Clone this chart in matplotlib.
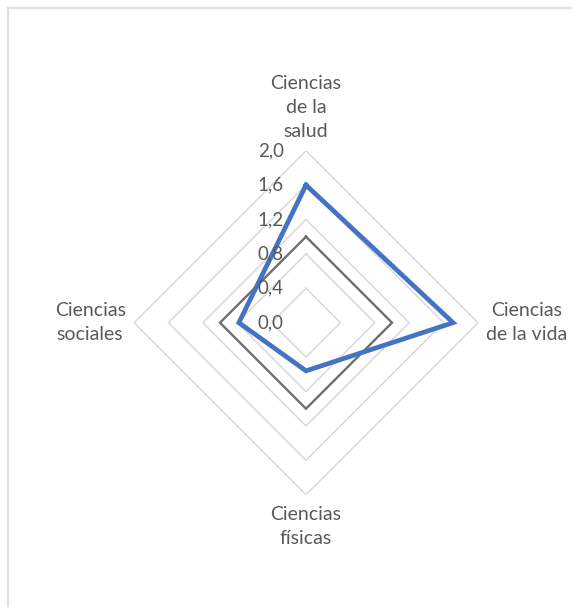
import numpy as np
import matplotlib.pyplot as plt
from matplotlib.lines import Line2D
from matplotlib.transforms import offset_copy

plt.rcParams['font.family'] = ['Lato', 'DejaVu Sans']

# data
categories = ['Ciencias\nde la\nsalud', 'Ciencias\nde la vida', 'Ciencias\nfísicas', 'Ciencias\nsociales']
blueValues = [1.6, 1.71, 0.56, 0.78]
grayValues = [1.0, 1.0, 1.0, 1.0]
gridLevels = [0.4, 0.8, 1.2, 1.6, 2.0]
tickValues = [0.0, 0.4, 0.8, 1.2, 1.6, 2.0]
tickLabels = [f'{v:.1f}'.replace('.', ',') for v in tickValues]

textColor = '#595959'
W, H = 572, 607
fig = plt.figure(figsize=(W / 100, H / 100), dpi=100)

# chart area border (only top and left visible)
fig.add_artist(Line2D([8 / W, 1.0], [1 - 8 / H, 1 - 8 / H], color='#D9D9D9', lw=1.2, transform=fig.transFigure))
fig.add_artist(Line2D([8 / W, 8 / W], [0.0, 1 - 8 / H], color='#D9D9D9', lw=1.2, transform=fig.transFigure))

cx, cy, rad = 306, 322.7, 172
ax = fig.add_axes([(cx - rad) / W, (H - cy - rad) / H, 2 * rad / W, 2 * rad / H], projection='polar')
ax.set_theta_offset(np.pi / 2)
ax.set_theta_direction(-1)
ax.set_ylim(0, 2.0)
ax.grid(False)
ax.spines['polar'].set_visible(False)
ax.set_xticks([])
ax.set_yticks([])
ax.patch.set_alpha(0)

angles = np.linspace(0, 2 * np.pi, len(categories), endpoint=False)
closed = np.concatenate([angles, angles[:1]])

for lvl in gridLevels:
    ax.plot(closed, [lvl] * len(closed), color='#D9D9D9', lw=1.1, zorder=1)

ax.plot(closed, grayValues + grayValues[:1], color='#6E6E6E', lw=1.7, zorder=3, solid_joinstyle='miter')
ax.plot(closed, blueValues + blueValues[:1], color='#4472C4', lw=3.4, zorder=4, solid_joinstyle='miter')

# radial tick labels
tickTrans = offset_copy(ax.transData, fig=fig, x=-16, y=0, units='points')
for v, lab in zip(tickValues, tickLabels):
    ax.text(0, v, lab, transform=tickTrans, ha='right', va='center', fontsize=13.5, color=textColor, zorder=5)

# category labels
offsets = [(0, 8, 'center', 'bottom'), (6, 0, 'left', 'center'), (0, -8, 'center', 'top'), (-6, 0, 'right', 'center')]
for a, lab, (dx, dy, ha, va) in zip(angles, categories, offsets):
    ax.annotate(lab, xy=(a, 2.0), xytext=(dx, dy), textcoords='offset points', ha=ha, va=va,
                multialignment='center', fontsize=14, color=textColor, linespacing=1.5, annotation_clip=False)

fig.savefig('out.png', dpi=100)
